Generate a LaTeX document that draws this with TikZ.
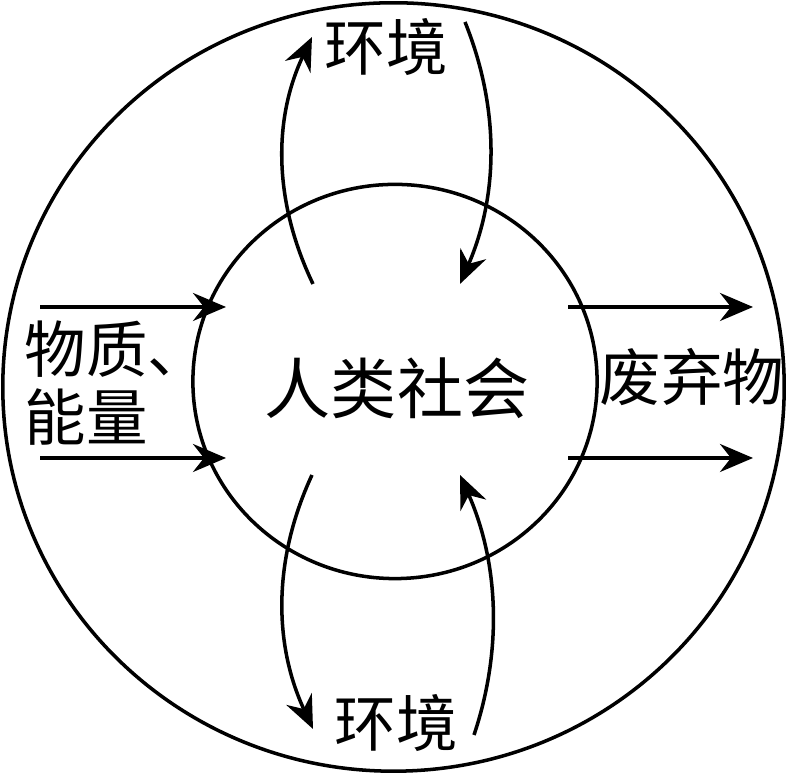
\documentclass[tikz,border=0pt]{standalone}
\usepackage{fontspec}
\setmainfont{Noto Sans CJK SC}
\usetikzlibrary{arrows.meta}
\tikzset{
  ring/.style={line width=1pt},
  flow/.style={line width=1pt,-{Stealth[length=3.3mm,width=2.8mm,inset=1.1mm]}},
  lab/.style={inner sep=0pt,font=\fontsize{17.5pt}{19.5pt}\selectfont},
  biglab/.style={inner sep=0pt,font=\fontsize{18.8pt}{21pt}\selectfont}
}
\begin{document}
\begin{tikzpicture}[x=0.01cm,y=-0.01cm]
\useasboundingbox (0,0) rectangle (787,774);
% circles
\draw[ring] (393.5,387) ellipse [x radius=3.905cm, y radius=3.84cm];
\draw[ring] (395,381.5) ellipse [x radius=2.02cm, y radius=1.97cm];
% labels
\node[biglab] (soc) at (397,388) {人类社会};
\node[lab,align=left] (inp) at (117,383) {物质、\\能量};
\node[lab] (waste) at (692,377) {废弃物};
\node[lab] (envt) at (386,47) {环境};
\node[lab] (envb) at (396,723) {环境};
% straight arrows
\coordinate (l1s) at (40,307);
\coordinate (l1e) at (226,307);
\coordinate (l2s) at (40,458);
\coordinate (l2e) at (226,458);
\coordinate (r1s) at (568,307);
\coordinate (r1e) at (753,307);
\coordinate (r2s) at (568,458);
\coordinate (r2e) at (753,458);
\draw[flow] (l1s) -- (l1e);
\draw[flow] (l2s) -- (l2e);
\draw[flow] (r1s) -- (r1e);
\draw[flow] (r2s) -- (r2e);
% curved arrows
\coordinate (tls) at (313,284);
\coordinate (tle) at (312,37);
\coordinate (trs) at (465,22);
\coordinate (tre) at (460,284);
\coordinate (bls) at (312,475);
\coordinate (ble) at (313,729);
\coordinate (brs) at (474,735);
\coordinate (bre) at (460,475);
\draw[flow] (tls) .. controls (273.3,201.3) and (273,119) .. (tle);
\draw[flow] (trs) .. controls (500,108.7) and (498.3,196) .. (tre);
\draw[flow] (bls) .. controls (273,559) and (273.3,643.7) .. (ble);
\draw[flow] (brs) .. controls (503,648.3) and (498.3,561.7) .. (bre);
\end{tikzpicture}
\end{document}
